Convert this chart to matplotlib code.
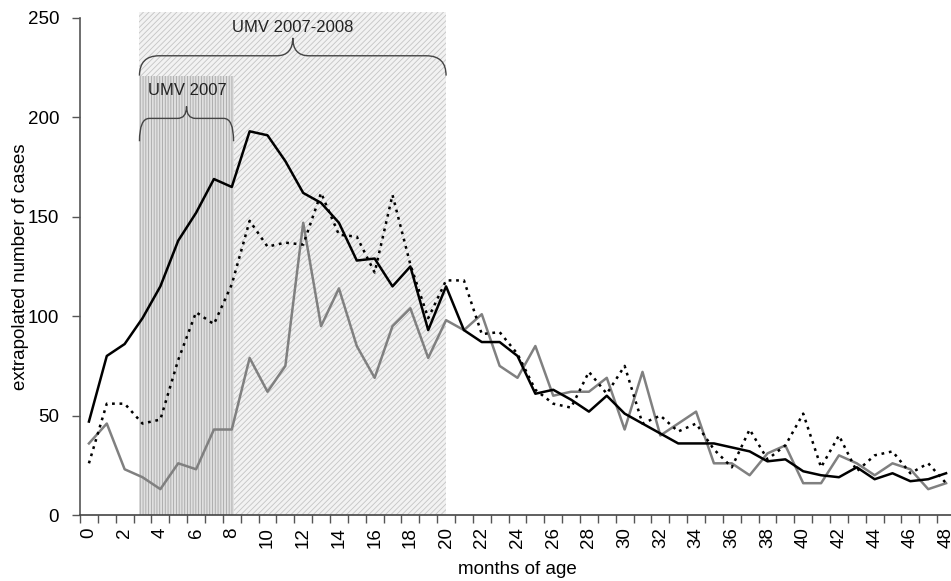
import matplotlib
matplotlib.use('Agg')
import matplotlib.pyplot as plt
from matplotlib.patches import Rectangle, PathPatch
from matplotlib.path import Path

plt.rcParams['font.family'] = ['Liberation Sans', 'DejaVu Sans']
plt.rcParams['hatch.linewidth'] = 0.6

# months of age 0..48
months = list(range(49))

# solid black series
black = [47, 80, 86, 99, 115, 138, 152, 169, 165, 193, 191, 178, 162, 157, 147,
         128, 129, 115, 125, 93, 115, 93, 87, 87, 80, 61, 63, 58, 52, 60, 51,
         46, 41, 36, 36, 36, 34, 32, 27, 28, 22, 20, 19, 24, 18, 21, 17, 18, 21]

# solid grey series
grey = [36, 46, 23, 19, 13, 26, 23, 43, 43, 79, 62, 75, 147, 95, 114, 85, 69,
        95, 104, 79, 98, 93, 101, 75, 69, 85, 60, 62, 62, 69, 43, 72, 40, 46,
        52, 26, 26, 20, 31, 35, 16, 16, 30, 26, 20, 26, 23, 13, 16]

# dotted black series
dotted = [26, 56, 56, 46, 48, 78, 102, 96, 116, 148, 135, 137, 136, 162, 141,
          140, 122, 161, 126, 99, 118, 118, 91, 92, 81, 63, 56, 54, 72, 61, 75,
          46, 50, 42, 46, 33, 24, 43, 28, 35, 51, 24, 40, 22, 30, 32, 21, 26, 16]

xticks = list(range(0, 49, 2))
yticks = [0, 50, 100, 150, 200, 250]


def brace(ax, x0, x1, ybot, ymid, ytop, r, r2):
    xm = (x0 + x1) / 2
    verts = [(x0, ybot), (x0, ymid), (x0 + r, ymid),
             (xm - r2, ymid),
             (xm, ymid), (xm, ytop),
             (xm, ymid), (xm + r2, ymid),
             (x1 - r, ymid),
             (x1, ymid), (x1, ybot)]
    codes = [Path.MOVETO, Path.CURVE3, Path.CURVE3,
             Path.LINETO,
             Path.CURVE3, Path.CURVE3,
             Path.CURVE3, Path.CURVE3,
             Path.LINETO,
             Path.CURVE3, Path.CURVE3]
    ax.add_patch(PathPatch(Path(verts, codes), fill=False, edgecolor='#444444',
                           lw=1.0, clip_on=False, zorder=3))


def main():
    fig = plt.figure(figsize=(9.51, 5.81), dpi=100)
    ax = fig.add_axes([80 / 951, 66 / 581, 875 / 951, 497 / 581])

    # shaded periods
    ax.add_patch(Rectangle((2.83, 0), 20.0 - 2.83, 253, facecolor='#f2f2f2',
                           edgecolor='#c4c4c4', hatch='//////', lw=0,
                           clip_on=False, zorder=0))
    ax.add_patch(Rectangle((2.83, 0), 8.1 - 2.83, 221, facecolor='#e0e0e0',
                           edgecolor='#a6a6a6', hatch='||||||', lw=0,
                           clip_on=False, zorder=0.5))

    brace(ax, 2.83, 20.0, 221, 231, 240, 1.1, 0.9)
    ax.text(11.4, 245, 'UMV 2007-2008', ha='center', va='center', fontsize=12,
            color='#222222')
    brace(ax, 2.83, 8.1, 188, 199.5, 205.5, 0.55, 0.5)
    ax.text(5.5, 213.5, 'UMV 2007', ha='center', va='center', fontsize=12,
            color='#222222')

    ax.plot(months, grey, color='#808080', lw=1.8, zorder=2)
    ax.plot(months, dotted, color='black', lw=1.8, linestyle=(0, (1.1, 1.9)),
            zorder=2.5)
    ax.plot(months, black, color='black', lw=1.8, zorder=3)

    ax.set_xlim(-0.5, 48.5)
    ax.set_ylim(0, 250)
    ax.set_xticks(xticks)
    ax.set_xticklabels([str(t) for t in xticks], rotation=90, fontsize=13.5)
    ax.set_xticks([m + 0.5 for m in range(-1, 49)], minor=True)
    ax.tick_params(axis='x', which='major', length=0, pad=9)
    ax.tick_params(axis='x', which='minor', length=6, width=1, color='#555555',
                   direction='out')
    ax.set_yticks(yticks)
    ax.set_yticklabels([str(t) for t in yticks], fontsize=13.5)
    ax.tick_params(axis='y', length=6, width=1, color='#555555', direction='out',
                   pad=9)

    for s in ['top', 'right']:
        ax.spines[s].set_visible(False)
    ax.spines['left'].set_color('#555555')
    ax.spines['bottom'].set_color('#444444')
    ax.spines['left'].set_linewidth(1.2)
    ax.spines['bottom'].set_linewidth(1.2)

    ax.set_xlabel('months of age', fontsize=13.5, labelpad=9)
    ax.set_ylabel('extrapolated number of cases', fontsize=13.5, labelpad=-1)

    fig.savefig('out.png', dpi=100)


if __name__ == '__main__':
    main()
